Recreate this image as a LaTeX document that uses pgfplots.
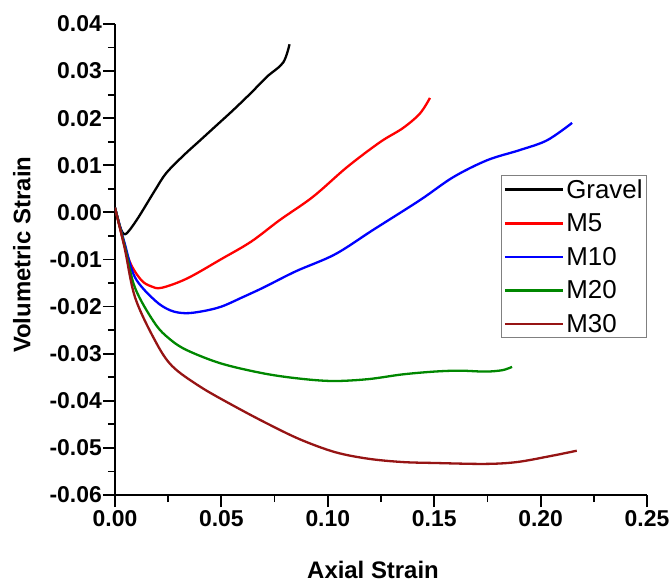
\documentclass[border=0pt]{standalone}
\usepackage{fontspec}
\setmainfont{Liberation Sans}
\usepackage{pgfplots}
\pgfplotsset{compat=1.18}
\definecolor{mgreen}{RGB}{0,135,0}
\definecolor{mbrown}{RGB}{150,20,20}
\begin{document}
\begin{tikzpicture}
\begin{axis}[
  scale only axis, width=532bp, height=471bp,
  xmin=0, xmax=0.25, ymin=-0.06, ymax=0.04,
  axis lines=left, axis line style={-, line width=2.4bp},
  xtick={0,0.05,...,0.25}, ytick={-0.06,-0.05,...,0.04},
  minor x tick num=1, minor y tick num=1,
  tick align=outside, major tick length=12bp, minor tick length=7bp,
  every tick/.style={black, line width=1.8bp},
  /pgf/number format/assume math mode=true,
  xticklabel style={/pgf/number format/fixed, /pgf/number format/fixed zerofill, /pgf/number format/precision=2, font=\fontsize{23}{26}\selectfont\bfseries},
  yticklabel style={/pgf/number format/fixed, /pgf/number format/fixed zerofill, /pgf/number format/precision=2, font=\fontsize{23}{26}\selectfont\bfseries, inner sep=1bp},
  scaled x ticks=false, scaled y ticks=false,
  xlabel={Axial Strain}, ylabel={Volumetric Strain},
  xlabel style={font=\fontsize{24}{27}\selectfont\bfseries, at={(axis description cs:0.485,-0.159)}, anchor=center},
  ylabel style={font=\fontsize{24}{27}\selectfont\bfseries, at={(axis description cs:-0.175,0.51)}, anchor=center},
  legend style={at={(axis description cs:1,0.679)}, anchor=north east, draw=gray, line width=0.8bp, font=\fontsize{26}{30}\selectfont, cells={anchor=west}, inner sep=2bp, row sep=10bp},
  legend image code/.code={\draw[#1, line width=2.8bp] (0bp,0bp) -- (58bp,0bp);},
  every axis plot/.append style={line width=2.3bp, smooth, tension=0.55},
]
\addplot[black] coordinates {(0,0.001) (0.002,-0.0025) (0.0039,-0.0045) (0.006,-0.0042) (0.0108,-0.0012) (0.0188,0.0047) (0.024,0.0083) (0.032,0.0120) (0.040,0.0153) (0.048,0.0186) (0.0555,0.0217) (0.064,0.0254) (0.0714,0.0288) (0.079,0.0318) (0.082,0.0357)};
\addlegendentry{Gravel}
\addplot[red] coordinates {(0,0.001) (0.0061,-0.0095) (0.012,-0.0142) (0.017,-0.0157) (0.022,-0.0160) (0.034,-0.0140) (0.050,-0.0099) (0.064,-0.0062) (0.0775,-0.0016) (0.093,0.0033) (0.109,0.0096) (0.1245,0.0149) (0.1353,0.0179) (0.1433,0.0210) (0.148,0.0243)};
\addlegendentry{M5}
\addplot[blue] coordinates {(0,0.001) (0.0045,-0.0065) (0.0094,-0.0138) (0.0188,-0.0187) (0.026,-0.0208) (0.033,-0.0214) (0.041,-0.0210) (0.050,-0.0200) (0.060,-0.0180) (0.070,-0.0159) (0.085,-0.0125) (0.1034,-0.0089) (0.121,-0.0038) (0.1433,0.0026) (0.159,0.0075) (0.175,0.0111) (0.190,0.0132) (0.203,0.0153) (0.2148,0.0190)};
\addlegendentry{M10}
\addplot[mgreen] coordinates {(0,0.001) (0.0045,-0.0070) (0.0094,-0.0160) (0.0188,-0.0236) (0.026,-0.0270) (0.034,-0.0293) (0.050,-0.0321) (0.070,-0.0342) (0.087,-0.0353) (0.1025,-0.0358) (0.119,-0.0354) (0.135,-0.0344) (0.150,-0.0338) (0.162,-0.0336) (0.174,-0.0338) (0.182,-0.0335) (0.1866,-0.0328)};
\addlegendentry{M20}
\addplot[mbrown] coordinates {(0,0.001) (0.0045,-0.0075) (0.0094,-0.0180) (0.0188,-0.0272) (0.0268,-0.0326) (0.040,-0.0370) (0.0555,-0.0410) (0.0714,-0.0448) (0.087,-0.0482) (0.1034,-0.0509) (0.119,-0.0523) (0.135,-0.0530) (0.150,-0.0532) (0.174,-0.0534) (0.189,-0.0530) (0.205,-0.0517) (0.217,-0.0506)};
\addlegendentry{M30}
\end{axis}
\pgfresetboundingbox
\path (current axis.south west) ++(-115bp,-89bp) rectangle ([xshift=23bp,yshift=24bp]current axis.north east);
\end{tikzpicture}
\end{document}
